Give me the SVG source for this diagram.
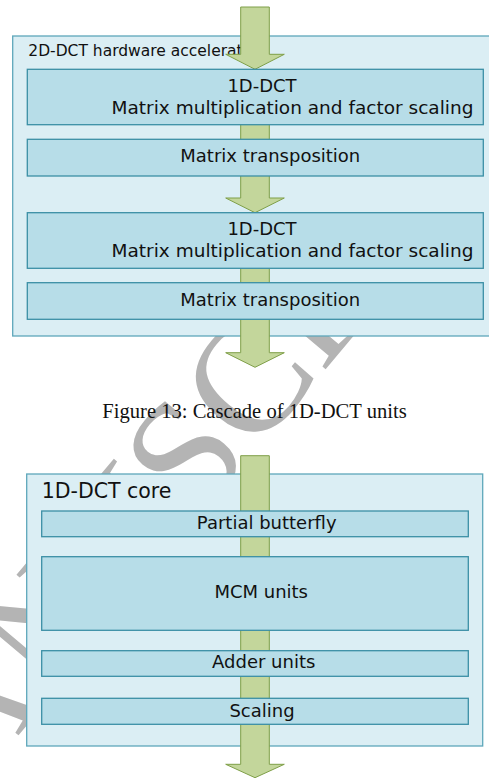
<svg xmlns="http://www.w3.org/2000/svg" width="489" height="778" viewBox="0 0 489 778">
  <style>
    .outer { fill: #dbeef4; stroke: #5ea7ba; stroke-width: 1.3; }
    .inner { fill: #b7dde8; stroke: #3b8fa5; stroke-width: 1.3; }
    .flow { fill: #c3d69b; stroke: #7f9f48; stroke-width: 1; }
    .lbl { font-family: "DejaVu Sans", Verdana, sans-serif; fill: #111; }
    .box { font-size: 18px; text-anchor: middle; }
    .wide { font-size: 18.5px; }
    .cap { font-family: "Liberation Serif", "Times New Roman", serif; font-size: 20.6px; fill: #111; text-anchor: middle; }
    .mark { font-family: "Liberation Serif", "Times New Roman", serif; font-size: 160px; fill: #b4b4b4; }
  </style>

  <!-- background watermark, sits under everything -->
  <text class="mark" transform="translate(-118 898) rotate(-50)">MANUSCRIPT</text>

  <!-- ===== Figure 13: cascade of 1D-DCT units ===== -->
  <g id="accelerator">
    <rect class="outer" x="12.7" y="36" width="485" height="300"/>
    <text class="lbl" x="28.3" y="56" font-size="15.5">2D-DCT hardware accelerator</text>
  </g>

  <g id="connectors-top">
    <path class="flow" d="M240.7,7 H269.3 V54.3 H284.3 L255,69.3 L225.7,54.3 H240.7 Z"/>
    <path class="flow" d="M240.7,120 H269.3 V198 H284.3 L255,212.7 L225.7,198 H240.7 Z"/>
    <path class="flow" d="M240.7,264 H269.3 V352.7 H284.3 L255,367.3 L225.7,352.7 H240.7 Z"/>
  </g>

  <g id="dct1">
    <rect class="inner" x="27.3" y="69.3" width="456" height="55.4"/>
    <text class="lbl box" x="262" y="91.7">1D-DCT</text>
    <text class="lbl box wide" x="292.5" y="114">Matrix multiplication and factor scaling</text>
  </g>
  <g id="transpose1">
    <rect class="inner" x="27.3" y="139.3" width="456" height="36.7"/>
    <text class="lbl box" x="270.3" y="162.3">Matrix transposition</text>
  </g>
  <g id="dct2">
    <rect class="inner" x="27.3" y="212.7" width="456" height="55.6"/>
    <text class="lbl box" x="262" y="235">1D-DCT</text>
    <text class="lbl box wide" x="292.5" y="257.3">Matrix multiplication and factor scaling</text>
  </g>
  <g id="transpose2">
    <rect class="inner" x="27.3" y="282.7" width="456" height="36.6"/>
    <text class="lbl box" x="270.3" y="306">Matrix transposition</text>
  </g>

  <g id="caption13">
    <text class="cap" x="254.5" y="418.3">Figure 13: Cascade of 1D-DCT units</text>
  </g>

  <!-- ===== 1D-DCT core ===== -->
  <g id="core">
    <rect class="outer" x="26.7" y="474" width="456" height="272"/>
    <text class="lbl" x="41.7" y="498.3" font-size="20.5">1D-DCT core</text>
  </g>

  <g id="connectors-core">
    <path class="flow" d="M240.7,455.7 H269.3 V764.3 H284.3 L255,777.7 L225.7,764.3 H240.7 Z"/>
  </g>

  <g id="butterfly">
    <rect class="inner" x="41.7" y="511" width="426.6" height="25.7"/>
    <text class="lbl box" x="266.7" y="529.3">Partial butterfly</text>
  </g>
  <g id="mcm">
    <rect class="inner" x="41.7" y="556.7" width="426.6" height="73.6"/>
    <text class="lbl box" x="261.2" y="598.3">MCM units</text>
  </g>
  <g id="adders">
    <rect class="inner" x="41.7" y="650.7" width="426.6" height="25.6"/>
    <text class="lbl box" x="263.7" y="668.3">Adder units</text>
  </g>
  <g id="scaling">
    <rect class="inner" x="41.7" y="698.3" width="426.6" height="26"/>
    <text class="lbl box" x="262" y="716.7">Scaling</text>
  </g>
</svg>
